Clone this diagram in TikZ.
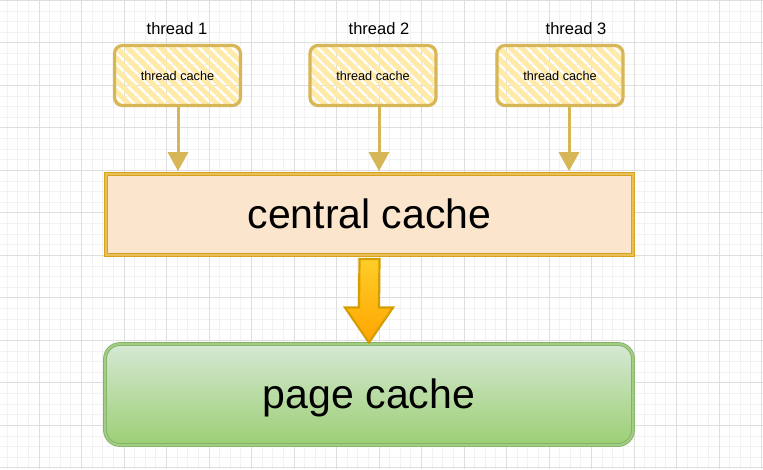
\documentclass[tikz,border=0pt]{standalone}
\usepackage{fontspec}
\setmainfont{Liberation Sans}
\usetikzlibrary{arrows.meta,calc}
\definecolor{gridminor}{HTML}{F2F2F2}
\definecolor{gridmajor}{HTML}{DEDEDE}
\definecolor{threadline}{HTML}{D6B656}
\definecolor{hatchcol}{HTML}{FFEAA8}
\definecolor{centralfill}{HTML}{FCE5CD}
\definecolor{centralline}{HTML}{D9A21E}
\definecolor{centralband}{HTML}{E7C05A}
\definecolor{pagetop}{HTML}{D6E8D4}
\definecolor{pagebottom}{HTML}{9CCF74}
\definecolor{pageline}{HTML}{82B366}
\definecolor{pageband}{HTML}{A3CC85}
\definecolor{arrowtop}{HTML}{FFCD28}
\definecolor{arrowbottom}{HTML}{FFA500}
\definecolor{arrowline}{HTML}{D49E00}
\begin{document}
\begin{tikzpicture}[x=1pt,y=-1pt,
  hatch/.style={path picture={
    \foreach \k in {-7,...,13}
      \draw[hatchcol, line width=5pt] ([xshift=\k*11pt]path picture bounding box.north west) -- ++(80pt,-80pt);
  }},
  threadbox/.style={draw=threadline, line width=3.2pt, rounded corners=8pt,
    minimum width=126pt, minimum height=60pt, inner sep=0pt,
    font=\fontsize{12.7}{15}\selectfont, hatch},
  threadlabel/.style={inner sep=0pt, font=\fontsize{16.5}{20}\selectfont},
  feed/.style={threadline, line width=3pt, -{Triangle[width=20pt,length=19pt]}},
  bigtext/.style={font=\fontsize{41}{49}\selectfont, text height=29.4pt, text depth=1.5pt},
  centralbox/.style={draw=centralline, double=centralband, double distance=2.4pt,
    line width=0.8pt, fill=centralfill, minimum width=527pt, minimum height=81pt, bigtext},
  pagebox/.style={draw=pageline, double=pageband, double distance=2pt,
    line width=0.9pt, rounded corners=15pt, top color=pagetop, bottom color=pagebottom,
    minimum width=528pt, minimum height=101pt, bigtext},
  bigarrow/.style={draw=arrowline, line width=2.2pt, line join=miter,
    top color=arrowtop, bottom color=arrowbottom}
]
\useasboundingbox (0,0) rectangle (763,469);
\fill[white] (0,0) rectangle (763,469);

% grid
\foreach \i in {0,...,71}
  \draw[gridminor, line width=0.8pt] (7.125+\i*10.625,0) -- ++(0,469);
\foreach \j in {0,...,44}
  \draw[gridminor, line width=0.8pt] (0,0.3+\j*10.625) -- ++(763,0);
\foreach \i in {0,...,17}
  \draw[gridmajor, line width=0.8pt] (39+\i*42.5,0) -- ++(0,469);
\foreach \j in {0,...,11}
  \draw[gridmajor, line width=0.8pt] (0,0.3+\j*42.5) -- ++(763,0);

% threads
\node[threadlabel] (t1) at (177,29) {thread 1};
\node[threadlabel] (t2) at (379,29) {thread 2};
\node[threadlabel] (t3) at (576,29) {thread 3};

\node[threadbox] (tc1) at (177.5,75.5) {thread cache};
\node[threadbox] (tc2) at (373,75.5) {thread cache};
\node[threadbox] (tc3) at (560,75.5) {thread cache};

% caches
\node[centralbox] (cc) at (369.5,214.5) {central cache};
\node[pagebox] (pc) at (369,394.5) {page cache};

% thread cache -> central cache
\coordinate (a1) at ([xshift=0.5pt]tc1.south);
\coordinate (a2) at ([xshift=6pt]tc2.south);
\coordinate (a3) at ([xshift=9pt]tc3.south);
\foreach \a in {a1,a2,a3}
  \draw[feed] (\a) -- ($(\a |- cc.north)+(0,-2.5)$);

% central cache -> page cache
\path[bigarrow] ($(cc.south)+(-10,3.5)$) -- ($(pc.north)+(-10,-36)$)
  -- ($(pc.north)+(-24,-36)$) -- ($(pc.north)+(0,-1)$)
  -- ($(pc.north)+(24,-36)$) -- ($(pc.north)+(10,-36)$)
  -- ($(cc.south)+(10,3.5)$) -- cycle;
\end{tikzpicture}
\end{document}
